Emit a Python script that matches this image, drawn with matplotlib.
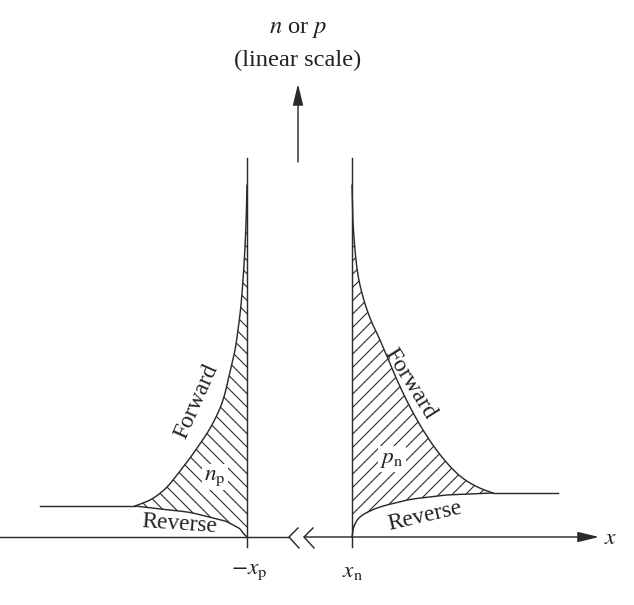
import matplotlib
matplotlib.use("Agg")
import matplotlib.pyplot as plt
import numpy as np

plt.rcParams['font.family'] = ['Liberation Serif', 'DejaVu Serif']
plt.rcParams['mathtext.fontset'] = 'stix'
plt.rcParams['hatch.linewidth'] = 1.0

# ---- data (pixel coordinates of the schematic) ----
# left side (p-side, minority electrons n_p)
np_fwd_x = [135, 150, 165, 180, 195, 213, 223, 230, 235, 238, 241, 243, 245, 246.3, 247]
np_fwd_y = [506, 500, 489, 471, 451, 423, 400, 372, 350, 330, 305, 280, 247, 215, 185]
np_rev_x = [135, 160, 187, 213, 225, 233, 240, 243, 247]
np_rev_y = [506, 509, 512, 518, 521, 525, 529, 533, 537]
np_flat_x = [40, 135]
np_flat_y = [506, 506]

# right side (n-side, minority holes p_n)
pn_fwd_x = [352, 352.7, 355, 358, 363, 370, 380, 397, 410, 423, 435, 447, 460, 470, 482, 493]
pn_fwd_y = [185, 215, 250, 275, 297, 318, 340, 380, 407, 430, 448, 463, 476, 483, 489, 493]
pn_rev_x = [352, 353, 356, 360, 370, 380, 395, 413, 430, 447, 470, 493]
pn_rev_y = [537, 530, 522, 517, 511, 507, 503, 499, 497, 495, 494, 493]
pn_flat_x = [493, 558]
pn_flat_y = [493, 493]

axis_y = 537
edge_left_x = 247    # -x_p
edge_right_x = 352   # x_n

col = '#2b2b2b'
lw = 1.3


def pchip(t, v, tt):
    """Monotone cubic (Fritsch-Carlson) used only to draw a smooth stroke
    through the read points."""
    t = np.asarray(t, float); v = np.asarray(v, float)
    h = np.diff(t); d = np.diff(v) / h
    m = np.zeros_like(v)
    for k in range(1, len(v) - 1):
        if d[k - 1] * d[k] > 0:
            w1 = 2 * h[k] + h[k - 1]; w2 = h[k] + 2 * h[k - 1]
            m[k] = (w1 + w2) / (w1 / d[k - 1] + w2 / d[k])
    m[0] = d[0]; m[-1] = d[-1]
    idx = np.clip(np.searchsorted(t, tt) - 1, 0, len(h) - 1)
    s = (tt - t[idx]) / h[idx]
    h00 = 2 * s**3 - 3 * s**2 + 1; h10 = s**3 - 2 * s**2 + s
    h01 = -2 * s**3 + 3 * s**2; h11 = s**3 - s**2
    return h00 * v[idx] + h10 * h[idx] * m[idx] + h01 * v[idx + 1] + h11 * h[idx] * m[idx + 1]


def smooth(x, y, n=300):
    x = np.asarray(x, float); y = np.asarray(y, float)
    t = np.concatenate([[0], np.cumsum(np.hypot(np.diff(x), np.diff(y)))])
    tt = np.linspace(0, t[-1], n)
    return pchip(t, x, tt), pchip(t, y, tt)


fig = plt.figure(figsize=(634 / 80, 605 / 80), dpi=80)
ax = fig.add_axes([0, 0, 1, 1])
ax.set_xlim(0, 634)
ax.set_ylim(605, 0)
ax.axis('off')

curves = {}
for name, (x, y) in {'npf': (np_fwd_x, np_fwd_y), 'npr': (np_rev_x, np_rev_y),
                     'pnf': (pn_fwd_x, pn_fwd_y), 'pnr': (pn_rev_x, pn_rev_y)}.items():
    curves[name] = smooth(x, y)

# hatched regions (polygon: forward curve then reverse curve back)
for f, r, hatch in [('npf', 'npr', '\\\\'), ('pnf', 'pnr', '//')]:
    fx, fy = curves[f]; rx, ry = curves[r]
    px = np.concatenate([fx, [fx[-1]], rx[::-1]])
    py = np.concatenate([fy, [ry[-1]], ry[::-1]])
    ax.fill(px, py, facecolor='none', edgecolor=col, hatch=hatch, linewidth=0)

# curves
for name in curves:
    ax.plot(*curves[name], color=col, lw=lw, solid_capstyle='round')
ax.plot(np_flat_x, np_flat_y, color=col, lw=lw)
ax.plot(pn_flat_x, pn_flat_y, color=col, lw=lw)

# edges of depletion region
ax.plot([edge_left_x, edge_left_x], [158, 547], color=col, lw=lw)
ax.plot([edge_right_x, edge_right_x], [158, 547], color=col, lw=lw)

# x axis with break
ax.plot([0, 289], [axis_y, axis_y], color=col, lw=lw)
ax.plot([298, 289, 299], [528, axis_y, 548], color=col, lw=lw)
ax.plot([313, 304, 314], [528, axis_y, 548], color=col, lw=lw)
ax.annotate('', xy=(599, axis_y), xytext=(304, axis_y),
            arrowprops=dict(arrowstyle='-|>,head_length=0.9,head_width=0.22',
                            color=col, lw=lw, mutation_scale=18,
                            shrinkA=0, shrinkB=0))

# vertical arrow
ax.annotate('', xy=(298, 84), xytext=(298, 162),
            arrowprops=dict(arrowstyle='-|>,head_length=0.9,head_width=0.22',
                            color=col, lw=lw, mutation_scale=18,
                            shrinkA=0, shrinkB=0))

fs = 21
tc = '#222222'
ax.text(298, 30, r'$n$ or $p$', ha='center', va='center', fontsize=22, color=tc)
ax.text(298, 60, '(linear scale)', ha='center', va='center', fontsize=22, color=tc)
ax.text(611, 539, r'$x$', ha='center', va='center', fontsize=fs, color=tc)
ax.text(249, 571, r'$-x_{\mathrm{p}}$', ha='center', va='center', fontsize=fs, color=tc)
ax.text(352, 571, r'$x_{\mathrm{n}}$', ha='center', va='center', fontsize=fs, color=tc)

ax.text(196, 401, 'Forward', ha='center', va='center', rotation=66,
        fontsize=fs, color=tc, rotation_mode='anchor')
ax.text(410, 384, 'Forward', ha='center', va='center', rotation=-58,
        fontsize=fs, color=tc, rotation_mode='anchor')
ax.text(179, 524, 'Reverse', ha='center', va='center', rotation=-4,
        fontsize=fs, color=tc, rotation_mode='anchor')
ax.text(425, 516, 'Reverse', ha='center', va='center', rotation=13,
        fontsize=fs, color=tc, rotation_mode='anchor')

ax.text(215, 477, r'$n_{\mathrm{p}}$', ha='center', va='center', fontsize=fs, color=tc,
        bbox=dict(boxstyle='square,pad=0.1', fc='white', ec='none'))
ax.text(392, 459, r'$p_{\mathrm{n}}$', ha='center', va='center', fontsize=fs, color=tc,
        bbox=dict(boxstyle='square,pad=0.1', fc='white', ec='none'))

fig.savefig('out.png', dpi=80, facecolor='white')
